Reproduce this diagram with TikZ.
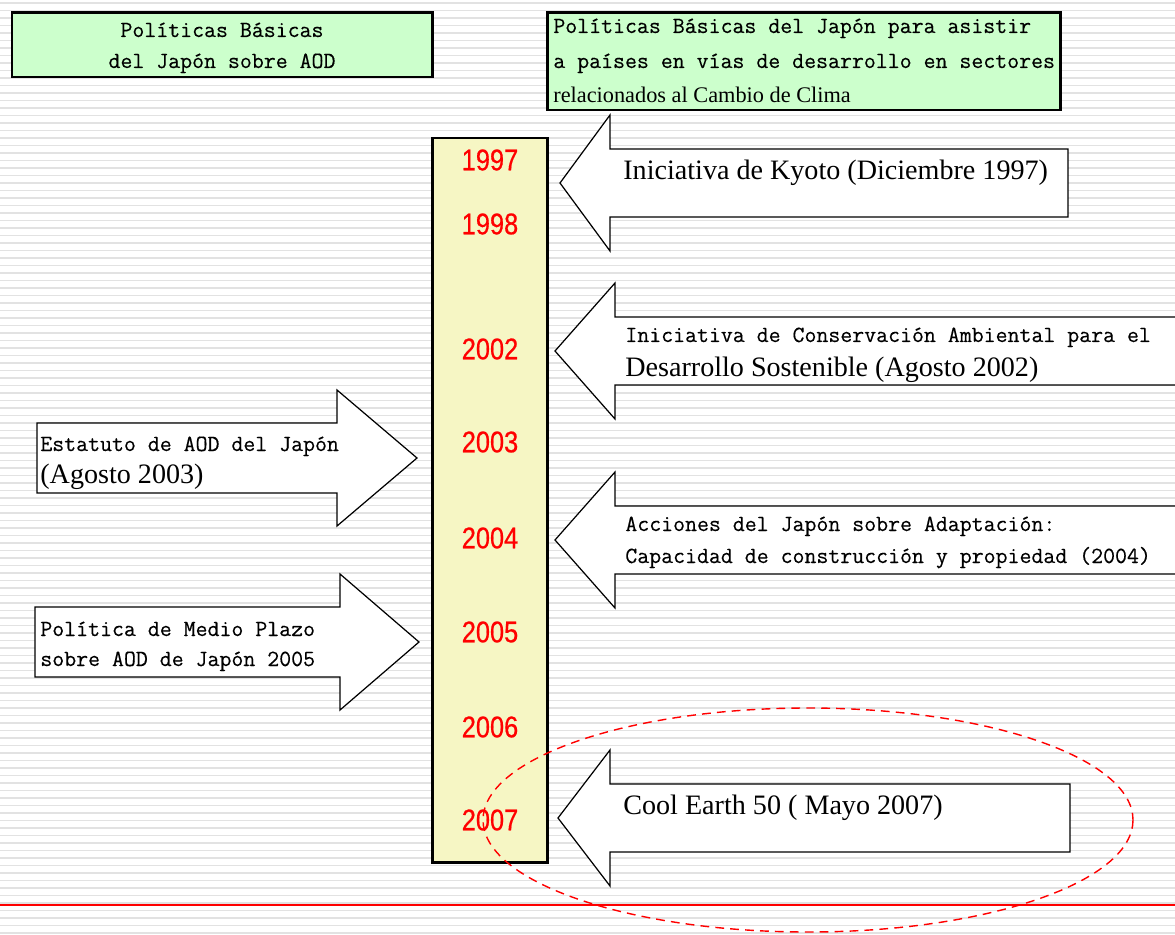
\documentclass[tikz,border=0pt]{standalone}
\usepackage{fontspec}
\setmainfont{Liberation Serif}
\setsansfont{Liberation Sans}
\newfontfamily\condmono[FakeBold=0.3]{Latin Modern Mono}
\newfontfamily\yearfont[FakeStretch=0.85,FakeBold=0.6]{Liberation Sans}
\definecolor{boxgreen}{RGB}{204,255,204}
\definecolor{lineyellow}{RGB}{246,246,196}
\definecolor{stripe}{RGB}{226,226,226}

\begin{document}
\begin{tikzpicture}[x=0.02cm,y=-0.02cm,
	greenbox/.style={draw=black,line width=1.7pt,fill=boxgreen},
	bigarrow/.style={draw=black,line width=0.7pt,fill=white},
	year/.style={text=red,inner sep=0pt,font=\yearfont\fontsize{17}{20}\selectfont},
	monotext/.style={inner sep=0pt,anchor=base west,font=\condmono\fontsize{13.2}{15}\selectfont},
	seriftext/.style={inner sep=0pt,anchor=base west,font=\rmfamily\fontsize{16}{19}\selectfont}]
	\useasboundingbox (0,0) rectangle (1175,935);
	\fill[white] (0,0) rectangle (1175,935);
	\foreach \i in {0,...,124} {\draw[stripe,line width=1.1pt]
		(0,{\i*7.5+3}) -- (1175,{\i*7.5+3});}
	\draw[red,line width=0.6pt] (0,905) -- (1175,905);
	% cajas de titulo
	\draw[greenbox] (12,13) rectangle (432,77);
	\node[monotext,anchor=base] (odatitle1) at (222,37) {Políticas Básicas};
	\node[monotext,anchor=base] (odatitle2) at (222,68) {del Japón sobre AOD};
	\draw[greenbox] (547,13) rectangle (1060,110);
	\node[monotext] (cctitle1) at (553,33) {Políticas Básicas del Japón para asistir};
	\node[monotext] (cctitle2) at (553,68) {a países en vías de desarrollo en sectores};
	\node[seriftext,font=\rmfamily\fontsize{12.7}{15}\selectfont] (cctitle3) at (553,103)
		{relacionados al Cambio de Clima};
	% linea de tiempo
	\draw[line width=1.7pt,fill=lineyellow] (432,138) rectangle (547,862);
	\foreach \yr/\ypos in {1997/160,1998/224,2002/349,2003/442,2004/538,2005/632,2006/727,2007/820}
		{\node[year] (y\yr) at (490,\ypos) {\yr};}
	% flechas
	\foreach \tx/\ty/\bx/\ex in {560/183/610/1068,555/351/615/1190,555/540/615/1190,558/818/610/1070}
		{\draw[bigarrow] (\tx,\ty) -- (\bx,\ty-68) -- (\bx,\ty-34) -- (\ex,\ty-34)
			-- (\ex,\ty+34) -- (\bx,\ty+34) -- (\bx,\ty+68) -- cycle;}
	\foreach \tx/\ty/\bx/\sx in {417/458/337/37,419/642/340/35}
		{\draw[bigarrow] (\tx,\ty) -- (\bx,\ty-68) -- (\bx,\ty-35) -- (\sx,\ty-35)
			-- (\sx,\ty+35) -- (\bx,\ty+35) -- (\bx,\ty+68) -- cycle;}
	\node[seriftext] (kyoto) at (623,180) {Iniciativa de Kyoto (Diciembre 1997)};
	\node[monotext] (cons1) at (625,342) {Iniciativa de Conservación Ambiental para el};
	\node[seriftext] (cons2) at (625,377) {Desarrollo Sostenible (Agosto 2002)};
	\node[monotext] (adap1) at (625,531) {Acciones del Japón sobre Adaptación:};
	\node[monotext] (adap2) at (625,563) {Capacidad de construcción y propiedad (2004)};
	\node[seriftext] (cool) at (623,814) {Cool Earth 50 ( Mayo 2007)};
	\node[monotext] (oda1) at (40,451) {Estatuto de AOD del Japón};
	\node[seriftext] (oda2) at (40,483) {(Agosto 2003)};
	\node[monotext] (plazo1) at (40,636) {Política de Medio Plazo};
	\node[monotext] (plazo2) at (40,666) {sobre AOD de Japón 2005};
	% marca de 2007
	\draw[red,line width=0.8pt,dash pattern=on 5pt off 3.5pt] (808,820) ellipse [x radius=325,y radius=112];
\end{tikzpicture}
\end{document}
